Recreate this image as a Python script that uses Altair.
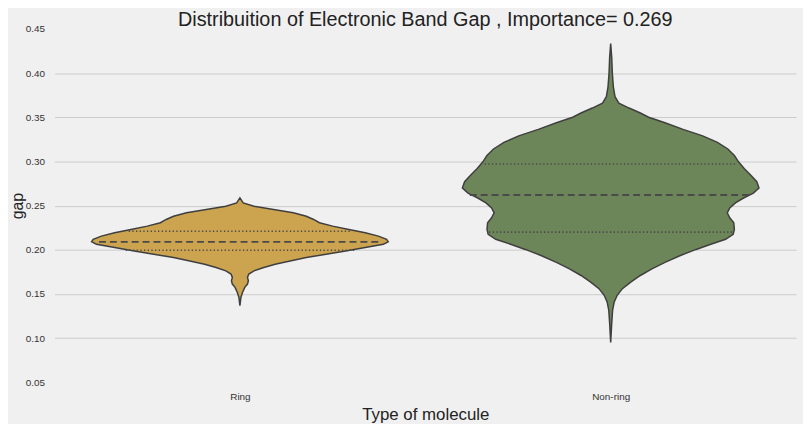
import altair as alt
import pandas as pd

categories = ["Ring", "Non-ring"]
colors = ["#CCA34F", "#6D8659"]

ring_gap = [0.2587, 0.253, 0.2492, 0.2455, 0.2418, 0.238, 0.2343, 0.2306, 0.2268, 0.223,
            0.2193, 0.2155, 0.2118, 0.2092, 0.2062, 0.2025, 0.1987, 0.195, 0.1912, 0.1874,
            0.1837, 0.18, 0.1762, 0.1725, 0.1688, 0.165, 0.1612, 0.1575, 0.1519, 0.1463, 0.1369]
ring_width = [0.0, 0.022, 0.095, 0.227, 0.36, 0.448, 0.497, 0.536, 0.625, 0.735,
              0.845, 0.934, 0.989, 1.0, 0.967, 0.845, 0.713, 0.581, 0.448, 0.338,
              0.238, 0.161, 0.095, 0.06, 0.051, 0.057, 0.051, 0.033, 0.018, 0.007, 0.0]

nonring_gap = [0.4333, 0.4178, 0.400, 0.3844, 0.3733, 0.3659, 0.3604, 0.3548, 0.350, 0.3437,
               0.3363, 0.3289, 0.3215, 0.3141, 0.3067, 0.2993, 0.2919, 0.2844, 0.277, 0.2698,
               0.2642, 0.2586, 0.253, 0.2474, 0.2418, 0.2362, 0.2306, 0.2231, 0.2175, 0.2119,
               0.2063, 0.2004, 0.1933, 0.1858, 0.1784, 0.1709, 0.1634, 0.156, 0.1485, 0.141,
               0.1317, 0.1168, 0.0951]
nonring_width = [0.0, 0.007, 0.011, 0.018, 0.029, 0.055, 0.124, 0.20, 0.256, 0.366,
                 0.488, 0.62, 0.72, 0.79, 0.834, 0.863, 0.90, 0.945, 0.985, 1.0,
                 0.962, 0.896, 0.841, 0.803, 0.786, 0.803, 0.83, 0.834, 0.826, 0.775,
                 0.675, 0.576, 0.466, 0.366, 0.278, 0.20, 0.135, 0.079, 0.044, 0.024,
                 0.013, 0.007, 0.0]

# quartiles: (q1, median, q3) and the violin width at each
ring_quart = [0.1995, 0.209, 0.221]
ring_quart_w = [0.77, 0.95, 0.75]
nonring_quart = [0.220, 0.262, 0.297]
nonring_quart_w = [0.82, 0.95, 0.85]

y_ticks = [0.05, 0.10, 0.15, 0.20, 0.25, 0.30, 0.35, 0.40, 0.45]

HALF = 0.4

rows = []
for i, (g, w) in enumerate([(ring_gap, ring_width), (nonring_gap, nonring_width)]):
    for gv, wv in zip(g, w):
        rows.append({"cat": categories[i], "gap": gv,
                     "lo": i - HALF * wv, "hi": i + HALF * wv})
vdf = pd.DataFrame(rows)

qrows = []
for i, (q, qw) in enumerate([(ring_quart, ring_quart_w), (nonring_quart, nonring_quart_w)]):
    for k, (qv, wv) in enumerate(zip(q, qw)):
        qrows.append({"cat": categories[i], "gap": qv, "kind": "median" if k == 1 else "quartile",
                      "lo": i - HALF * wv, "hi": i + HALF * wv})
qdf = pd.DataFrame(qrows)

FONT = "Liberation Sans"
label_expr = " : ".join(f"datum.value == {i} ? '{c}'" for i, c in enumerate(categories)) + " : ''"

xscale = alt.Scale(domain=[-0.5, 1.5], nice=False, zero=False)
yscale = alt.Scale(domain=[0.05, 0.45], nice=False, zero=False)

xaxis = alt.Axis(title="Type of molecule", values=[0, 1], labelExpr=label_expr, grid=False,
                 ticks=False, domain=False, labelFont=FONT, labelFontSize=10, labelColor="#333",
                 labelPadding=9, titleFont=FONT, titleFontSize=17, titleFontWeight="normal",
                 titleColor="#222", titlePadding=6)
yaxis = alt.Axis(title="gap", values=y_ticks, format=".2f", ticks=False, domain=False,
                 labelFont=FONT, labelFontSize=10, labelColor="#333", labelPadding=10,
                 titleFont=FONT, titleFontSize=16, titleFontWeight="normal", titleColor="#222",
                 titlePadding=0, gridColor="#cbcbcb", gridWidth=1,
                 gridOpacity={"condition": {"test": "datum.value > 0.44 || datum.value < 0.06",
                                            "value": 0}, "value": 1})

violins = alt.Chart(vdf).mark_area(orient="horizontal", stroke="#3f3f3f", strokeWidth=1.5,
                                   opacity=1).encode(
    y=alt.Y("gap:Q", scale=yscale, axis=yaxis),
    x=alt.X("lo:Q", scale=xscale, axis=xaxis, stack=None),
    x2=alt.X2("hi:Q"),
    color=alt.Color("cat:N", scale=alt.Scale(domain=categories, range=colors), legend=None),
)

med = alt.Chart(qdf).transform_filter("datum.kind == 'median'").mark_rule(
    color="#4a4a4a", strokeWidth=1.8, strokeDash=[7, 4]).encode(
    y="gap:Q", x="lo:Q", x2="hi:Q")

quart = alt.Chart(qdf).transform_filter("datum.kind == 'quartile'").mark_rule(
    color="#4a4a4a", strokeWidth=1.6, strokeDash=[1.3, 2.4]).encode(
    y="gap:Q", x="lo:Q", x2="hi:Q")

chart = alt.layer(violins, med, quart).properties(
    width=749, height=357,
    autosize=alt.AutoSizeParams(type="none"),
    padding={"left": 47, "top": 19, "right": 7, "bottom": 40},
    background="#f0f0f0",
    title=alt.TitleParams("Distribuition of Electronic Band Gap , Importance= 0.269",
                          font=FONT, fontSize=20, fontWeight="normal", color="#222",
                          anchor="middle", offset=-6),
).configure_view(stroke=None, fill="#f0f0f0")

chart.save("out.html", embed_options={"renderer": "svg", "actions": False})
